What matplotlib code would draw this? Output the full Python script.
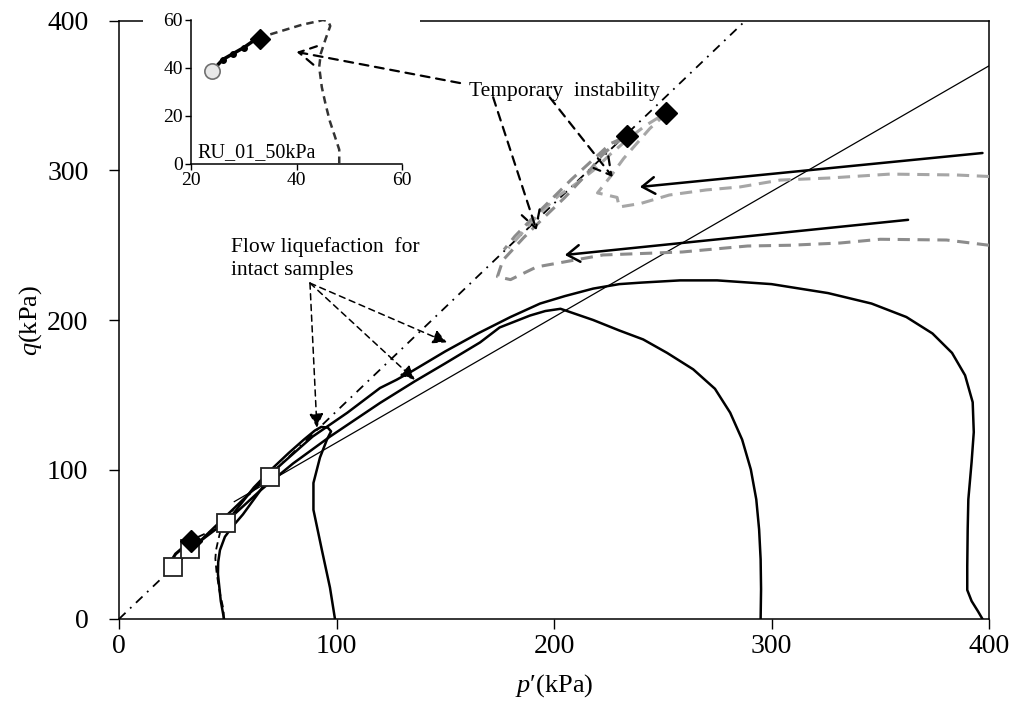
import matplotlib
matplotlib.use("Agg")
import matplotlib.pyplot as plt
from matplotlib.patches import Rectangle

plt.rcParams['font.family'] = ['Liberation Serif', 'DejaVu Serif']
plt.rcParams['mathtext.fontset'] = 'custom'
plt.rcParams['mathtext.rm'] = 'Liberation Serif'
plt.rcParams['mathtext.it'] = 'Liberation Serif:italic'

# ---- reference lines ----
inst_p = [0, 290]
inst_q = [0, 403]
csl_p = [53, 400]
csl_q = [78.5, 370]

# ---- intact samples (undrained stress paths) ----
i50_p = [48.3, 46.8, 45.5, 45.6, 46.4, 48.7, 52, 57, 63, 69.4]
i50_q = [0, 12, 30, 38, 46, 55, 61.5, 70, 82, 95]

i100_p = [99.3, 97, 93.3, 89.4, 89.4, 92.4, 95.6, 97.5, 96, 93, 90, 85, 78, 70, 62, 55, 49.2]
i100_q = [0, 21, 46, 73, 91, 108, 120, 125.5, 128, 128.5, 126, 120, 111, 100, 88, 75, 64.2]

i300_p = [295, 295.2, 295, 294.3, 293, 290.5, 286.5, 281, 274, 264, 252, 241, 230, 218, 208, 203,
          196, 189, 175, 166, 150, 136, 120, 97, 80, 65, 50, 40, 33]
i300_q = [0, 20, 40, 60, 80, 100, 120, 138, 154, 167, 178, 187, 193, 200, 205, 207.5,
          206, 203, 195, 185, 171, 159, 144.5, 122, 104, 86, 66, 55, 47]

i400_p = [397, 395, 392, 390, 390, 390.2, 390.5, 392, 393, 392.5, 389, 383, 374, 362, 346, 326,
          300, 275, 258, 240, 230, 218, 205, 193.6, 180, 165, 150, 135, 127.6, 120, 105, 89, 75,
          60, 45, 35, 25]
i400_q = [0, 5, 12, 19.4, 35, 60, 80, 105, 125, 145, 163, 178, 191, 202, 211, 218,
          224, 226.5, 226.5, 225, 224, 221, 216, 211, 202, 191, 179, 166, 160, 154.5, 138, 122, 104,
          84, 63, 49, 35]

# ---- reconstituted sample RU_01_50kPa ----
ru50_p = [48.1, 48.1, 47.2, 46.3, 45.5, 44.8, 44.3, 44.6, 45.5, 46.4, 46, 45, 44.3, 41, 38, 35, 32.6]
ru50_q = [0, 6, 12, 18, 25, 32, 40.4, 46, 52, 57.5, 59.5, 60, 59.6, 58, 56, 54, 52.5]
ru50_post_p = [32.6, 30, 28, 26, 24]
ru50_post_q = [52.5, 48.5, 46, 43.5, 38.75]

# ---- reconstituted samples at high confinement ----
rg1_p = [400, 385, 354.5, 327, 304, 285.5, 270, 253, 240, 230, 229, 220, 226, 232, 238, 244, 250,
         251.5, 242, 234, 226, 218, 210, 202, 196, 190, 184, 179]
rg1_q = [296, 297, 297.6, 295, 293.6, 289, 287, 283.6, 278, 275.6, 282, 285, 296, 308, 318, 328,
         336, 338.5, 330, 321, 311, 300, 291, 283, 275, 266, 256, 248]

rg2_p = [400, 380.5, 350, 331.5, 308.5, 289, 259, 222.5, 192, 180, 174, 176.5, 186, 195, 205, 214,
         222, 228, 233.6, 226, 217, 208, 199, 190, 182, 177]
rg2_q = [250, 253.5, 254, 251.5, 250, 249.5, 245.5, 243.5, 235.5, 227, 229, 240, 255, 268, 282,
         296, 310, 318, 323, 318, 306, 294, 281, 268, 256, 247]

# ---- markers ----
end_p = [24.8, 32.6, 49.2, 69.4]
end_q = [34.8, 46.8, 64.2, 95]
onset_p = [33.1, 233.6, 251.5]
onset_q = [52.2, 323, 338.5]
circle_p = [24]
circle_q = [38.75]

fig = plt.figure(figsize=(10.14, 7.06), dpi=100)
ax = fig.add_axes([119 / 1014, 87 / 706, 870 / 1014, 598 / 706])

ax.plot(inst_p, inst_q, color='black', lw=1.3, linestyle=(0, (5, 3.5, 1, 3.5)), zorder=2)
ax.plot(csl_p, csl_q, color='black', lw=0.9, zorder=2)

for pp, qq in [(i50_p, i50_q), (i100_p, i100_q), (i300_p, i300_q), (i400_p, i400_q)]:
    ax.plot(pp, qq, color='black', lw=1.8, zorder=3, solid_joinstyle='round')

ax.plot(ru50_p, ru50_q, color='black', lw=1.3, linestyle=(0, (4, 2.5)), zorder=3)
ax.plot(ru50_post_p, ru50_post_q, color='black', lw=2.2, zorder=3)

ax.plot(rg1_p, rg1_q, color='#a6a6a6', lw=2.2, linestyle=(0, (4, 2.5)), zorder=3)
ax.plot(rg2_p, rg2_q, color='#8c8c8c', lw=2.2, linestyle=(0, (4, 2.5)), zorder=3)

ax.plot(end_p, end_q, linestyle='none', marker='s', markersize=13.5, markerfacecolor='white',
        markeredgecolor='#222222', markeredgewidth=1.3, zorder=5)
ax.plot(onset_p, onset_q, linestyle='none', marker='D', markersize=11, markerfacecolor='black',
        markeredgecolor='black', zorder=6)

# direction of loading for the reconstituted tests
for start, end in [((397, 311.7), (239.5, 289)), ((362.8, 267), (205, 243.5))]:
    ax.annotate('', xy=end, xytext=start,
                arrowprops=dict(arrowstyle='->,head_length=0.6,head_width=0.4', lw=1.8,
                                color='black', mutation_scale=15, shrinkA=0, shrinkB=0))

# annotations
ax.text(51.5, 241, 'Flow liquefaction  for\nintact samples', fontsize=15.5, ha='left',
        va='center', linespacing=1.25)
flow_src = (87.8, 224.7)
for tgt in [(91, 128), (136, 160), (150.8, 185)]:
    ax.annotate('', xy=tgt, xytext=flow_src,
                arrowprops=dict(arrowstyle='-|>,head_length=0.7,head_width=0.35', lw=1.1,
                                linestyle=(0, (4, 3)), color='black', mutation_scale=12,
                                shrinkA=0, shrinkB=0))

ax.text(205, 353, 'Temporary  instability', fontsize=15.5, ha='center', va='center')
for src, tgt in [((172, 349), (192, 260)), ((198, 349), (227, 295.6))]:
    ax.annotate('', xy=tgt, xytext=src,
                arrowprops=dict(arrowstyle='->,head_length=0.8,head_width=0.45', lw=1.6,
                                linestyle=(0, (4, 3)), color='black', mutation_scale=15,
                                shrinkA=0, shrinkB=0))

ax.set_xlim(0, 400)
ax.set_ylim(0, 400)
ax.set_xticks([0, 100, 200, 300, 400])
ax.set_yticks([0, 100, 200, 300, 400])
ax.tick_params(direction='out', length=7, width=1, labelsize=20)
ax.tick_params(axis='y', pad=15)
for s in ax.spines.values():
    s.set_linewidth(1.1)
ax.set_xlabel(r"$p$′(kPa)", fontsize=19, labelpad=10)
ax.set_ylabel(r"$q$(kPa)", fontsize=19, labelpad=2)

# ---- inset: RU_01_50kPa close-up ----
ins = fig.add_axes([191 / 1014, (706 - 164) / 706, 211 / 1014, 144 / 706])
ins.add_patch(Rectangle((143 / 1014, (706 - 190) / 706), (420 - 143) / 1014, (190 - 12) / 706,
                        transform=fig.transFigure, facecolor='white', edgecolor='none',
                        clip_on=False, zorder=0))
ins.plot(ru50_p, ru50_q, color='#333333', lw=1.8, linestyle=(0, (3, 2)), zorder=3)
ins.plot(ru50_post_p, ru50_post_q, color='black', lw=2.5, marker='o', markersize=4, zorder=3)
ins.plot(onset_p[:1], onset_q[:1], linestyle='none', marker='D', markersize=10,
         markerfacecolor='black', markeredgecolor='black', zorder=5)
ins.plot(circle_p, circle_q, linestyle='none', marker='o', markersize=11,
         markerfacecolor='#e8e8e8', markeredgecolor='#707070', markeredgewidth=1.2, zorder=6)
ins.text(21.3, 0.6, 'RU_01_50kPa', fontsize=14.5, ha='left', va='bottom')
ins.set_xlim(20, 60)
ins.set_ylim(0, 60)
ins.set_xticks([20, 40, 60])
ins.set_yticks([0, 20, 40, 60])
ins.tick_params(direction='out', length=4, width=1, labelsize=14, pad=2)
ins.spines['top'].set_visible(False)
ins.spines['right'].set_visible(False)
for s in ('left', 'bottom'):
    ins.spines[s].set_linewidth(1.1)

# arrow from the label to the inset close-up
ins.annotate('', xy=(40, 46.7), xycoords='data', xytext=(156.8, 358.5), textcoords=ax.transData,
             annotation_clip=False,
             arrowprops=dict(arrowstyle='->,head_length=0.8,head_width=0.45', lw=1.6,
                             linestyle=(0, (4, 3)), color='black', mutation_scale=15,
                             shrinkA=0, shrinkB=0))

fig.savefig('out.png', dpi=100)
